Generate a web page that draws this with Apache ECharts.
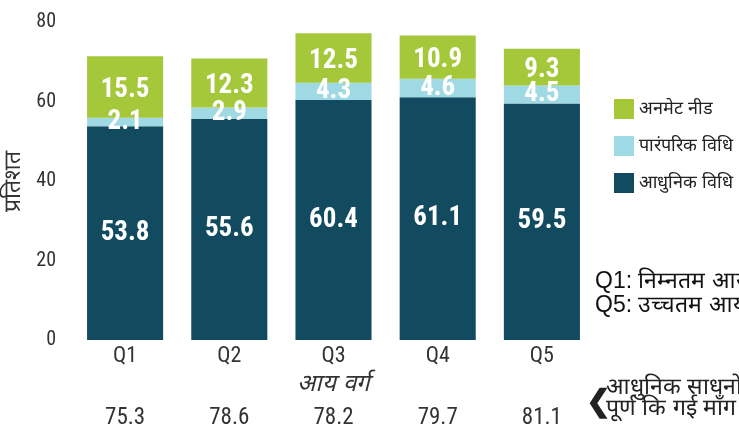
<!DOCTYPE html>
<html>
<head>
<meta charset="utf-8">
<script src="https://cdn.jsdelivr.net/npm/echarts@6/dist/echarts.min.js"></script>
<style>
  html, body { margin: 0; padding: 0; background: #fff; }
  #chart { width: 739px; height: 426px; }
</style>
</head>
<body>
<div id="chart"></div>
<script>
const categories = ['Q1', 'Q2', 'Q3', 'Q4', 'Q5'];
const modernMethods = [53.8, 55.6, 60.4, 61.1, 59.5];
const traditionalMethods = [2.1, 2.9, 4.3, 4.6, 4.5];
const unmetNeed = [15.5, 12.3, 12.5, 10.9, 9.3];
const demandSatisfied = ['75.3', '78.6', '78.2', '79.7', '81.1'];
const yTicks = [0, 20, 40, 60, 80];

const narrow = '"Roboto Condensed", "Liberation Sans Narrow", Roboto, sans-serif';

const chart = echarts.init(document.getElementById('chart'));

const barLabel = {
  show: true,
  position: 'inside',
  color: '#fff',
  fontFamily: narrow,
  fontWeight: 'bold',
  fontSize: 27
};

chart.setOption({
  animation: false,
  color: ['#124a5f', '#9fd9e4', '#a4c83a'],
  grid: { left: 73, right: 145, top: 22, bottom: 86, outerBoundsMode: 'none' },
  legend: {
    orient: 'vertical',
    left: 609,
    top: 94,
    itemWidth: 20,
    itemHeight: 20,
    itemGap: 17,
    icon: 'rect',
    data: ['अनमेट नीड', 'पारंपरिक विधि', 'आधुनिक विधि'],
    textStyle: { fontSize: 18, color: '#222' }
  },
  xAxis: [{
    type: 'category',
    data: categories,
    axisLine: { show: false },
    axisTick: { show: false },
    axisLabel: { fontFamily: narrow, fontSize: 22, color: '#333', margin: 5 },
    name: 'आय वर्ग',
    nameLocation: 'middle',
    nameGap: 32,
    nameTextStyle: { fontStyle: 'italic', fontSize: 24, color: '#333' }
  }, {
    type: 'category',
    data: demandSatisfied,
    position: 'bottom',
    offset: 59,
    axisLine: { show: false },
    axisTick: { show: false },
    axisLabel: { fontFamily: narrow, fontSize: 23, color: '#333' }
  }],
  yAxis: {
    type: 'value',
    min: yTicks[0],
    max: yTicks[yTicks.length - 1],
    interval: 20,
    axisLine: { show: false },
    axisTick: { show: false },
    splitLine: { show: false },
    axisLabel: { fontFamily: narrow, fontSize: 20, color: '#333', margin: 17 },
    name: 'प्रतिशत',
    nameLocation: 'middle',
    nameGap: 43,
    nameTextStyle: { fontSize: 23, color: '#333' }
  },
  series: [{
    name: 'आधुनिक विधि',
    type: 'bar',
    stack: 'total',
    barWidth: '73%',
    data: modernMethods,
    label: barLabel
  }, {
    name: 'पारंपरिक विधि',
    type: 'bar',
    stack: 'total',
    data: traditionalMethods,
    label: barLabel
  }, {
    name: 'अनमेट नीड',
    type: 'bar',
    stack: 'total',
    data: unmetNeed,
    label: Object.assign({}, barLabel, { offset: [0, 3] })
  }],
  graphic: [{
    type: 'text',
    left: 595,
    top: 270,
    style: {
      text: 'Q1: निम्नतम आय\nQ5: उच्चतम आय',
      fontFamily: '"Liberation Sans", Arial, sans-serif',
      fontSize: 23,
      lineHeight: 24,
      fill: '#111'
    }
  }, {
    type: 'text',
    left: 586,
    top: 388,
    style: {
      text: '❮',
      fontSize: 30,
      fontWeight: 'bold',
      fill: '#222'
    }
  }, {
    type: 'text',
    left: 606,
    top: 376,
    style: {
      text: 'आधुनिक साधनों से\nपूर्ण कि गई माँग',
      fontSize: 23,
      lineHeight: 21,
      fill: '#222'
    }
  }]
});
</script>
</body>
</html>
